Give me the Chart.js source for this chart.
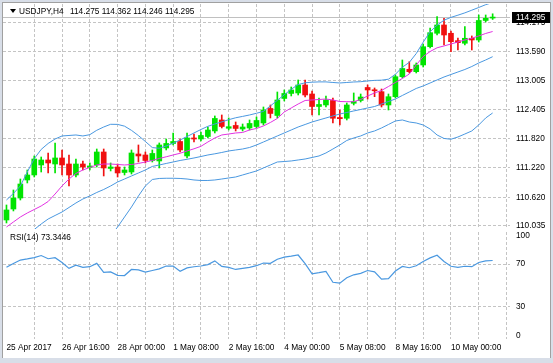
<!DOCTYPE html>
<html><head><meta charset="utf-8">
<script src="https://cdn.jsdelivr.net/npm/chart.js@4.4.1/dist/chart.umd.min.js"></script>
<style>
html,body{margin:0;padding:0;width:553px;height:363px;overflow:hidden;background:#d8dee8;}
#frame{position:absolute;left:2px;top:2px;width:549px;height:356px;background:#fff;border:1px solid #a0a0a0;border-bottom:none;box-sizing:border-box;}
canvas{position:absolute;}
.t{position:absolute;font-family:"Liberation Sans",Arial,sans-serif;font-size:8.3px;color:#000;white-space:pre;line-height:10px;z-index:5;}
#tri{position:absolute;left:10px;top:9px;width:0;height:0;border-left:3px solid transparent;border-right:3px solid transparent;border-top:4px solid #000;z-index:5;}
</style></head><body>
<div id="frame"></div>
<canvas id="c1" width="547" height="228" style="left:3px;top:3px"></canvas>
<canvas id="c2" width="547" height="127" style="left:3px;top:231px"></canvas>
<div id="tri"></div>
<div class="t" style="left:19px;top:6px">USDJPY,H4</div>
<div class="t" style="left:70px;top:6px">114.275 114.362 114.246 114.295</div>
<div class="t" style="left:10px;top:232px">RSI(14) 73.3446</div>
<script>
// ---- data ----
const dateLabels = ["25 Apr 2017","26 Apr 16:00","28 Apr 00:00","1 May 08:00","2 May 16:00","4 May 00:00","5 May 08:00","8 May 16:00","10 May 00:00"];
const priceTicks = [110.035,110.620,111.220,111.820,112.405,113.005,113.590,114.175];
const rsiTicks = [0,30,70,100];

const opens = [110.156,110.380,110.604,110.972,111.074,111.278,111.380,111.298,111.421,111.298,
111.074,111.298,111.227,111.278,111.543,111.207,111.237,111.125,111.135,111.502,
111.482,111.370,111.360,111.625,111.717,111.757,111.462,111.829,111.808,111.859,
111.972,112.196,112.027,112.084,112.012,112.033,112.063,112.135,112.431,112.288,
112.635,112.737,112.747,112.910,112.726,112.471,112.502,112.594,112.247,112.231,
112.537,112.594,112.859,112.808,112.773,112.502,112.671,113.079,113.230,113.181,
113.318,113.691,113.965,114.134,113.965,113.814,113.761,113.863,113.828,114.226,114.275];
const highs = [110.462,110.768,110.992,111.176,111.462,111.441,111.523,111.727,111.584,111.482,
111.400,111.360,111.319,111.604,111.604,111.319,111.298,111.237,111.584,111.686,
111.543,111.584,111.727,111.808,111.931,111.808,111.931,111.910,111.951,112.053,
112.278,112.298,112.237,112.155,112.114,112.196,112.257,112.461,112.502,112.767,
112.808,112.869,113.012,113.012,112.788,112.645,112.686,112.645,112.400,112.543,
112.747,112.726,112.910,112.849,112.828,112.726,113.114,113.420,113.385,113.359,
113.746,114.073,114.303,114.271,114.012,113.869,114.099,113.910,114.338,114.338,114.362];
const lows = [110.095,110.340,110.564,110.911,111.033,111.135,111.115,111.115,111.074,110.850,
111.033,111.176,111.176,111.237,111.054,111.156,111.033,111.074,111.094,111.339,
111.319,111.339,111.217,111.584,111.686,111.543,111.421,111.747,111.768,111.829,
111.931,112.033,111.992,111.972,111.972,111.992,112.033,112.094,112.237,112.237,
112.584,112.686,112.706,112.665,112.298,112.298,112.461,112.135,112.094,112.196,
112.502,112.563,112.624,112.671,112.461,112.400,112.645,113.053,113.155,113.155,
113.277,113.665,113.930,113.726,113.589,113.624,113.726,113.624,113.787,114.195,114.246];
const closes = [110.360,110.604,110.890,111.074,111.400,111.380,111.319,111.421,111.278,111.074,
111.298,111.237,111.258,111.543,111.217,111.237,111.115,111.176,111.523,111.462,
111.370,111.513,111.686,111.717,111.757,111.584,111.829,111.808,111.880,111.992,
112.227,112.063,112.059,112.023,112.053,112.125,112.186,112.400,112.329,112.604,
112.737,112.808,112.910,112.706,112.471,112.512,112.604,112.231,112.223,112.502,
112.573,112.665,112.808,112.792,112.502,112.671,113.079,113.247,113.181,113.318,
113.691,113.977,114.134,113.930,113.793,113.773,113.863,113.828,114.226,114.270,114.295];

const bandUpper = [110.564,110.697,110.850,111.135,111.407,111.596,111.717,111.808,111.870,111.880,
111.890,111.870,111.896,111.986,112.053,112.108,112.106,112.070,111.984,111.878,
111.757,111.633,111.619,111.666,111.721,111.788,111.859,111.931,112.002,112.067,
112.114,112.157,112.202,112.241,112.269,112.298,112.333,112.371,112.482,112.598,
112.710,112.822,112.918,112.955,112.967,112.973,112.973,112.961,112.951,112.961,
112.971,112.977,112.992,113.004,113.008,113.028,113.128,113.273,113.371,113.551,
113.783,113.997,114.130,114.232,114.289,114.334,114.381,114.436,114.491,114.548,114.593];
const maLine = [110.013,110.115,110.217,110.299,110.370,110.442,110.533,110.686,110.850,110.992,
111.105,111.176,111.227,111.278,111.298,111.298,111.288,111.278,111.288,111.309,
111.339,111.370,111.411,111.445,111.482,111.517,111.564,111.608,111.659,111.747,
111.829,111.890,111.910,111.931,111.941,111.992,112.023,112.074,112.145,112.227,
112.359,112.441,112.522,112.594,112.604,112.614,112.624,112.604,112.573,112.569,
112.569,112.614,112.686,112.747,112.798,112.879,112.961,113.043,113.134,113.318,
113.491,113.593,113.669,113.706,113.746,113.787,113.828,113.863,113.910,113.961,114.001];
const bandMiddle = [null,null,null,109.789,109.962,110.074,110.176,110.248,110.319,110.411,
110.503,110.584,110.646,110.717,110.778,110.850,110.931,110.992,111.054,111.115,
111.176,111.248,111.278,111.309,111.339,111.370,111.394,111.421,111.451,111.482,
111.506,111.533,111.564,111.584,111.604,111.635,111.686,111.747,111.808,111.870,
111.931,111.992,112.053,112.104,112.155,112.196,112.237,112.278,112.318,112.349,
112.380,112.410,112.441,112.471,112.522,112.573,112.624,112.696,112.767,112.839,
112.890,112.951,113.012,113.073,113.124,113.175,113.226,113.287,113.359,113.420,113.487];
const bandLower = [null,null,null,null,null,null,null,null,null,null,
null,null,null,null,null,109.830,110.013,110.217,110.421,110.646,
110.850,110.982,111.003,111.007,111.007,111.003,110.992,110.972,110.962,110.962,
110.972,110.992,111.013,111.033,111.074,111.115,111.156,111.217,111.278,111.339,
111.349,111.360,111.380,111.400,111.431,111.462,111.523,111.604,111.686,111.778,
111.829,111.870,111.931,111.972,112.033,112.104,112.176,112.196,112.155,112.135,
112.094,112.012,111.890,111.819,111.803,111.849,111.910,111.972,112.094,112.237,112.339];
const rsi = [67,70.5,73.8,74.8,76,78,75,76,71.5,66,
69,67,67.6,70.7,62.3,62.7,59.5,59.3,65,64.6,
62.5,64,65.5,68.2,68.2,63.3,66.5,67.5,68.2,69.5,
73,67.8,67,65,66,67,68.5,71,70.7,74.5,
76.5,77.4,78.5,70.5,61,62,63.2,53,52.2,57.2,
60,61.4,64,62.8,56,56.5,63.5,67.8,66.6,68.5,
72.5,75.8,78.3,72.5,68,67,68,67.6,71.5,73,73.3446];

// ---- setup ----
const SLOTS = 73;
const labels = Array.from({length: SLOTS}, (_, i) => (i % 8 === 0 && i / 8 < dateLabels.length) ? dateLabels[i / 8] : '');
const GREEN = '#00e400', RED = '#f01010', BLUE = '#4a98e0', MAG = '#e232e2', GRID = '#c4c4c4';
const FONT = {family: '"Liberation Sans", Arial, sans-serif', size: 8.3};
const candleColor = opens.map((o, i) => closes[i] >= o ? GREEN : RED);
const lastClose = closes[closes.length - 1];

const zeroPad = s => { s.paddingTop = 0; s.paddingBottom = 0; s.paddingLeft = 0; s.paddingRight = 0; };
const xGridColor = c => (c.index % 4 === 0 && c.index > 0) ? GRID : 'rgba(0,0,0,0)';

const priceBox = {
  id: 'priceBox',
  beforeDatasetsDraw(chart) {
    const a = chart.chartArea, y = Math.round(chart.scales.y.getPixelForValue(lastClose)) + 0.5;
    const ctx = chart.ctx; ctx.save();
    ctx.strokeStyle = '#c0c0c0'; ctx.lineWidth = 1;
    ctx.beginPath(); ctx.moveTo(a.left, y); ctx.lineTo(a.right, y); ctx.stroke();
    ctx.restore();
  },
  afterDraw(chart) {
    const a = chart.chartArea, y = chart.scales.y.getPixelForValue(lastClose);
    const ctx = chart.ctx; ctx.save();
    ctx.fillStyle = '#000';
    ctx.fillRect(a.right + 2, Math.round(y) - 5, 38, 11);
    ctx.fillStyle = '#fff';
    ctx.font = '8.3px "Liberation Sans", Arial, sans-serif';
    ctx.textBaseline = 'middle';
    ctx.fillText(lastClose.toFixed(3), a.right + 6, Math.round(y) + 0.5);
    ctx.restore();
  }
};

const lineDs = (data, color) => ({type: 'line', data, borderColor: color, borderWidth: 1, pointRadius: 0, tension: 0, order: 0, spanGaps: false});

new Chart(document.getElementById('c1'), {
  type: 'bar',
  data: {
    labels,
    datasets: [
      lineDs(bandUpper, BLUE), lineDs(maLine, MAG), lineDs(bandMiddle, BLUE), lineDs(bandLower, BLUE),
      {data: opens.map((o, i) => [o, closes[i]]), backgroundColor: candleColor, barThickness: 5, grouped: false, minBarLength: 1, order: 1},
      {data: lows.map((l, i) => [l, highs[i]]), backgroundColor: candleColor, barThickness: 1, grouped: false, order: 2}
    ]
  },
  options: {
    responsive: false, animation: false, devicePixelRatio: 1,
    layout: {padding: {top: 1, bottom: 2, left: 0, right: 0}},
    plugins: {legend: {display: false}, tooltip: {enabled: false}},
    scales: {
      x: {
        offset: true,
        grid: {offset: false, color: xGridColor, drawTicks: false},
        border: {display: false, dash: [3, 2]},
        ticks: {display: false, autoSkip: false},
        afterFit: s => { s.height = 0; zeroPad(s); }
      },
      y: {
        position: 'right', min: 109.972, max: 114.562,
        afterBuildTicks: s => { s.ticks = priceTicks.map(v => ({value: v})); },
        ticks: {callback: v => Number(v).toFixed(3), font: FONT, color: '#000', padding: 6, autoSkip: false},
        grid: {color: GRID, drawTicks: false},
        border: {display: false, dash: [3, 2]},
        afterFit: s => { s.width = 40; zeroPad(s); }
      }
    }
  },
  plugins: [priceBox]
});

new Chart(document.getElementById('c2'), {
  type: 'line',
  data: {labels, datasets: [{data: rsi, borderColor: BLUE, borderWidth: 1.2, pointRadius: 0, tension: 0}]},
  options: {
    responsive: false, animation: false, devicePixelRatio: 1,
    layout: {padding: {top: 1, bottom: 0, left: 0, right: 0}},
    plugins: {legend: {display: false}, tooltip: {enabled: false}},
    scales: {
      x: {
        offset: true,
        grid: {offset: false, color: xGridColor, drawTicks: false},
        border: {display: false, dash: [3, 2]},
        ticks: {autoSkip: false, maxRotation: 0, minRotation: 0, align: 'start', padding: 4, font: FONT, color: '#000',
                callback: (v, i) => labels[i]},
        afterFit: s => { s.height = 19; zeroPad(s); }
      },
      y: {
        position: 'right', min: 0, max: 100,
        afterBuildTicks: s => { s.ticks = rsiTicks.map(v => ({value: v})); },
        ticks: {font: Object.assign({}, FONT, {lineHeight: 0.8}), color: '#000', padding: 6, autoSkip: false,
                callback: v => v === 100 ? ['', '100'] : (v === 0 ? ['0', ''] : String(v))},
        grid: {color: c => (c.tick && (c.tick.value === 30 || c.tick.value === 70)) ? GRID : 'rgba(0,0,0,0)', drawTicks: false},
        border: {display: false, dash: [3, 2]},
        afterFit: s => { s.width = 40; zeroPad(s); }
      }
    }
  }
});
</script>
</body></html>
